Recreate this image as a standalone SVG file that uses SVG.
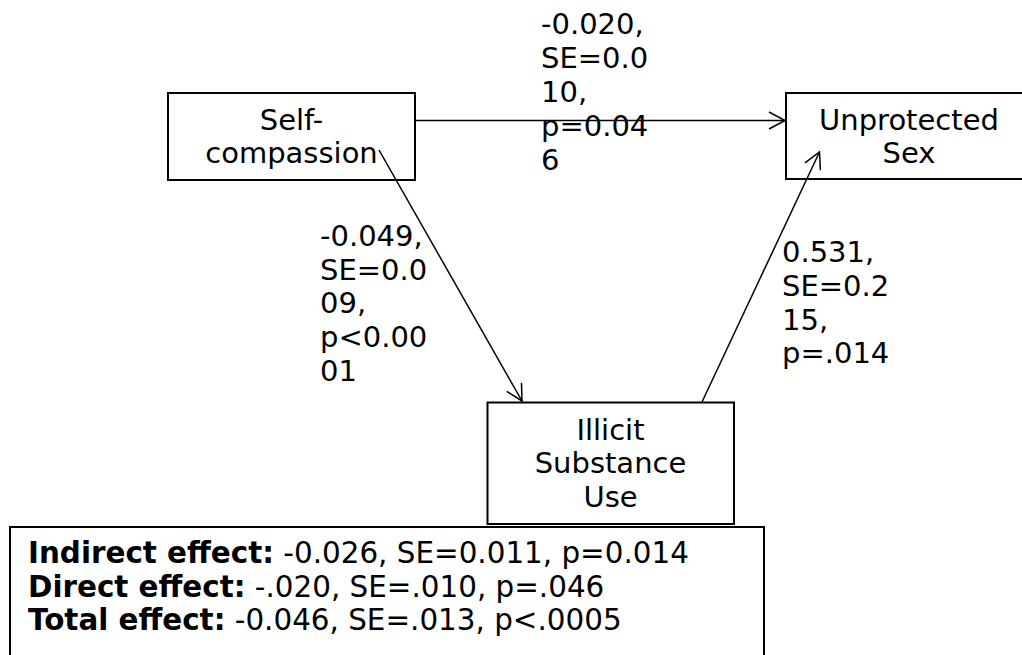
<svg xmlns="http://www.w3.org/2000/svg" width="1022" height="655" viewBox="0 0 1022 655">
<style>
.box{fill:#fff;stroke:#000;stroke-width:2}
.t{font-family:"DejaVu Sans",Verdana,sans-serif;font-size:29px;fill:#000}
.e{font-size:29.4px}
.c{text-anchor:middle}
.b{font-weight:bold}
.ln{fill:none;stroke:#000;stroke-width:1.5}
</style>
<defs>
<marker id="arr" markerUnits="userSpaceOnUse" orient="auto" overflow="visible" markerWidth="1" markerHeight="1" refX="0" refY="0">
<path d="M-16,-8.5 L0,0 L-16,8.5" fill="none" stroke="#000" stroke-width="1.5"/>
</marker>
</defs>
<rect width="1022" height="655" fill="#fff"/>
<g id="self-compassion">
<rect class="box" x="168" y="93" width="247" height="87"/>
<text class="t c" x="291.5" y="130">Self-</text>
<text class="t c" x="291.5" y="163">compassion</text>
</g>
<g id="unprotected-sex">
<rect class="box" x="786" y="93" width="247" height="86"/>
<text class="t c" x="909" y="130">Unprotected</text>
<text class="t c" x="909" y="163">Sex</text>
</g>
<g id="illicit-substance-use">
<rect class="box" x="487.5" y="402.5" width="246.5" height="121.5"/>
<text class="t c" x="610.5" y="439.5">Illicit</text>
<text class="t c" x="610.5" y="473">Substance</text>
<text class="t c" x="610.5" y="507">Use</text>
</g>
<g id="connectors">
<line class="ln" x1="415" y1="120.5" x2="785" y2="120.5" marker-end="url(#arr)"/>
<line class="ln" x1="379" y1="150" x2="522" y2="401" marker-end="url(#arr)"/>
<line class="ln" x1="702" y1="402" x2="819.5" y2="152" marker-end="url(#arr)"/>
</g>
<g id="label-direct">
<text class="t" x="541" y="34">-0.020,</text>
<text class="t" x="541" y="68">SE=0.0</text>
<text class="t" x="541" y="102">10,</text>
<text class="t" x="541" y="136">p=0.04</text>
<text class="t" x="541" y="170">6</text>
</g>
<g id="label-a">
<text class="t" x="320" y="246">-0.049,</text>
<text class="t" x="320" y="280">SE=0.0</text>
<text class="t" x="320" y="313">09,</text>
<text class="t" x="320" y="347">p&lt;0.00</text>
<text class="t" x="320" y="381">01</text>
</g>
<g id="label-b">
<text class="t" x="782" y="262">0.531,</text>
<text class="t" x="782" y="296">SE=0.2</text>
<text class="t" x="782" y="330">15,</text>
<text class="t" x="782" y="363">p=.014</text>
</g>
<g id="effects">
<rect class="box" x="10" y="527" width="754" height="140"/>
<text class="t e" x="28" y="563"><tspan class="b">Indirect effect:</tspan> -0.026, SE=0.011, p=0.014</text>
<text class="t e" x="28" y="597"><tspan class="b">Direct effect:</tspan> -.020, SE=.010, p=.046</text>
<text class="t e" x="28" y="630"><tspan class="b">Total effect:</tspan> -0.046, SE=.013, p&lt;.0005</text>
</g>
</svg>
